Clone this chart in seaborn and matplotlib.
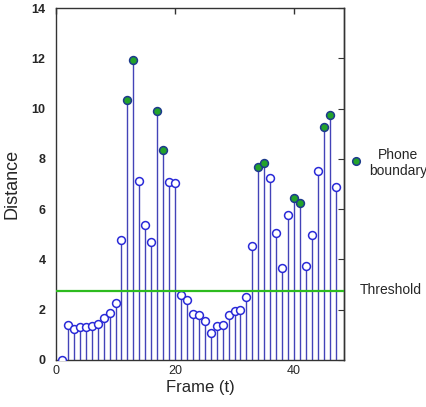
import numpy as np
import pandas as pd
import matplotlib
matplotlib.use("Agg")
import matplotlib.pyplot as plt
import seaborn as sns

# ---- data ----
frames = list(range(1, 48))
distance = [0.0, 1.38, 1.22, 1.32, 1.32, 1.36, 1.45, 1.67, 1.87, 2.28,
            4.78, 10.35, 11.94, 7.14, 5.36, 4.68, 9.92, 8.37, 7.1, 7.03,
            2.6, 2.4, 1.84, 1.78, 1.54, 1.09, 1.36, 1.41, 1.8, 1.94,
            1.98, 2.5, 4.52, 7.67, 7.85, 7.25, 5.05, 3.66, 5.77, 6.43,
            6.23, 3.72, 4.98, 7.51, 9.29, 9.76, 6.89]
boundary_frames = [12, 13, 17, 18, 34, 35, 40, 41, 45, 46]
threshold = 2.73
x_ticks = [0, 20, 40]
y_ticks = [0, 2, 4, 6, 8, 10, 12, 14]

df = pd.DataFrame({"frame": frames, "distance": distance})
df["boundary"] = df["frame"].isin(boundary_frames)

sns.set_style("white")
plt.rcParams["font.family"] = ["Liberation Sans", "DejaVu Sans"]

fig = plt.figure(figsize=(4.26, 4.07), dpi=100)
ax = fig.add_axes([0.1315, 0.1155, 0.676, 0.8645])

stem_col = "#4343b8"
ax.vlines(df["frame"], 0, df["distance"], color=stem_col, lw=1.0, zorder=2)
sns.scatterplot(data=df[~df["boundary"]], x="frame", y="distance", ax=ax,
                s=32, facecolor="white", edgecolor="#2a2ad8", linewidth=1.1,
                zorder=3, legend=False)
sns.scatterplot(data=df[df["boundary"]], x="frame", y="distance", ax=ax,
                s=32, color="#23a32b", edgecolor="#1c3a8c", linewidth=1.1,
                zorder=4, legend=False)
ax.axhline(threshold, color="#2dbb1f", lw=1.6, zorder=5)

ax.set_xlim(0, 48.4)
ax.set_ylim(0, 14)
ax.set_xticks(x_ticks)
ax.set_yticks(y_ticks)
ax.tick_params(axis="both", labelsize=9, length=4, width=1, color="#333333")
ax.tick_params(axis="y", direction="out")
ax.tick_params(axis="x", direction="in", top=True)
for lab in ax.get_yticklabels():
    lab.set_fontweight("bold")
ax.set_xlabel("Frame (t)", fontsize=12, labelpad=2)
ax.set_ylabel("Distance", fontsize=13, labelpad=8)

right = ax.secondary_yaxis("right")
right.set_yticks(y_ticks)
right.tick_params(direction="in", length=4, labelright=False, color="#333333")

for sp in list(ax.spines.values()) + list(right.spines.values()):
    sp.set_color("#333333")
    sp.set_linewidth(1.0)

# labels outside the axes on the right
ax.scatter([1.04], [0.565], transform=ax.transAxes, s=30,
           color="#23a32b", edgecolor="#1c3a8c", linewidth=1.1,
           clip_on=False, zorder=6)
fig.text(0.935, 0.6, "Phone\nboundary", ha="center", va="center",
         fontsize=10, linespacing=1.2)
fig.text(0.845, 0.288, "Threshold", ha="left", va="center", fontsize=10)

fig.savefig("out.png", dpi=100)
